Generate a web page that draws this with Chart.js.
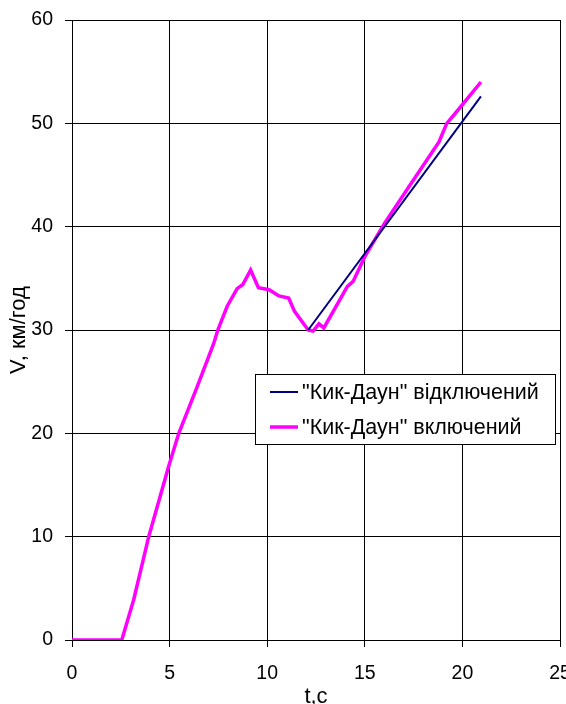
<!DOCTYPE html>
<html>
<head>
<meta charset="utf-8">
<script src="https://cdn.jsdelivr.net/npm/chart.js@4"></script>
<style>
  html, body { margin: 0; padding: 0; background: #fff; }
  #wrap { width: 566px; height: 704px; }
</style>
</head>
<body>
<div id="wrap"><canvas id="chart-line" width="566" height="704"></canvas></div>
<script>
// "Кик-Даун" відключений
var tOff = [12.1, 20.95];
var vOff = [30.0, 52.6];

// "Кик-Даун" включений
var tOn = [0, 2.55, 3.16, 3.93, 4.95, 5.47, 6.41, 7.26, 7.47, 7.95, 8.46, 8.75, 9.15, 9.55,
           10.1, 10.6, 11.1, 11.4, 12.1, 12.35, 12.65, 12.9, 13.5, 14.1, 14.4, 15, 16,
           17.2, 18.8, 19.2, 19.65, 20.95];
var vOn = [0, 0, 3.9, 10, 16.8, 20, 24.5, 28.7, 30, 32.3, 34.0, 34.4, 35.8, 34.1,
           33.9, 33.3, 33.1, 31.8, 30.0, 29.9, 30.6, 30.2, 32.2, 34.2, 34.7, 37.1, 40.3,
           43.7, 48.2, 50.0, 51.0, 54.0];

var labels = ['"Кик-Даун" відключений', '"Кик-Даун" включений'];
var xTicks = [0, 5, 10, 15, 20, 25];
var yTicks = [0, 10, 20, 30, 40, 50, 60];

function pts(xs, ys) {
  return xs.map(function (x, i) { return { x: x, y: ys[i] }; });
}

var tickFont = { family: "Liberation Sans", size: 19.5 };
var titleFont = { family: "Liberation Sans", size: 22 };

// legend box drawn inside the plot area
var boxLegend = {
  id: 'boxLegend',
  afterDraw: function (chart) {
    var c = chart.ctx;
    var x = 255, y = 374, w = 300, h = 70;
    c.save();
    c.fillStyle = '#fff';
    c.fillRect(x, y, w, h);
    c.strokeStyle = '#000';
    c.lineWidth = 1;
    c.strokeRect(x + 0.5, y + 0.5, w, h);
    c.font = '21.5px "Liberation Sans"';
    c.textBaseline = 'middle';
    chart.data.datasets.forEach(function (ds, i) {
      var ly = y + 18 + i * 35;
      c.strokeStyle = ds.borderColor;
      c.lineWidth = ds.borderWidth;
      c.beginPath();
      c.moveTo(x + 15, ly);
      c.lineTo(x + 43, ly);
      c.stroke();
      c.fillStyle = '#000';
      c.fillText(ds.label, x + 47, ly + 1);
    });
    c.restore();
  }
};

var ctx1 = document.getElementById("chart-line").getContext("2d");

new Chart(ctx1, {
  type: "scatter",
  data: {
    datasets: [{
      label: labels[0],
      data: pts(tOff, vOff),
      showLine: true,
      borderColor: "#000080",
      borderWidth: 2,
      pointRadius: 0,
      tension: 0
    }, {
      label: labels[1],
      data: pts(tOn, vOn),
      showLine: true,
      borderColor: "#FF00FF",
      borderWidth: 3.5,
      pointRadius: 0,
      tension: 0
    }]
  },
  plugins: [boxLegend],
  options: {
    responsive: false,
    animation: false,
    layout: { padding: { top: 20, right: 6, left: 0, bottom: 0 } },
    plugins: {
      legend: { display: false },
      tooltip: { enabled: false }
    },
    scales: {
      x: {
        type: 'linear',
        min: 0,
        max: 25,
        afterBuildTicks: function (s) { s.ticks = xTicks.map(function (v) { return { value: v }; }); },
        afterFit: function (s) { s.height = 64; s.paddingLeft = 0; s.paddingRight = 0; },
        grid: { color: '#000', lineWidth: 1, drawTicks: true, tickLength: 7 },
        border: { color: '#000', width: 1 },
        ticks: { color: '#000', font: tickFont, padding: 15, maxRotation: 0 },
        title: { display: true, text: 't,с', color: '#000', font: titleFont, padding: { top: 0, bottom: -6 } }
      },
      y: {
        type: 'linear',
        min: 0,
        max: 60,
        afterBuildTicks: function (s) { s.ticks = yTicks.map(function (v) { return { value: v }; }); },
        afterFit: function (s) { s.width = 72; s.paddingTop = 0; s.paddingBottom = 0; },
        grid: { color: '#000', lineWidth: 1, drawTicks: true, tickLength: 7 },
        border: { color: '#000', width: 1 },
        ticks: { color: '#000', font: tickFont, padding: 12 },
        title: { display: true, text: 'V, км/год', color: '#000', font: titleFont, padding: { top: 6, bottom: 0 } }
      }
    }
  }
});
</script>
</body>
</html>
